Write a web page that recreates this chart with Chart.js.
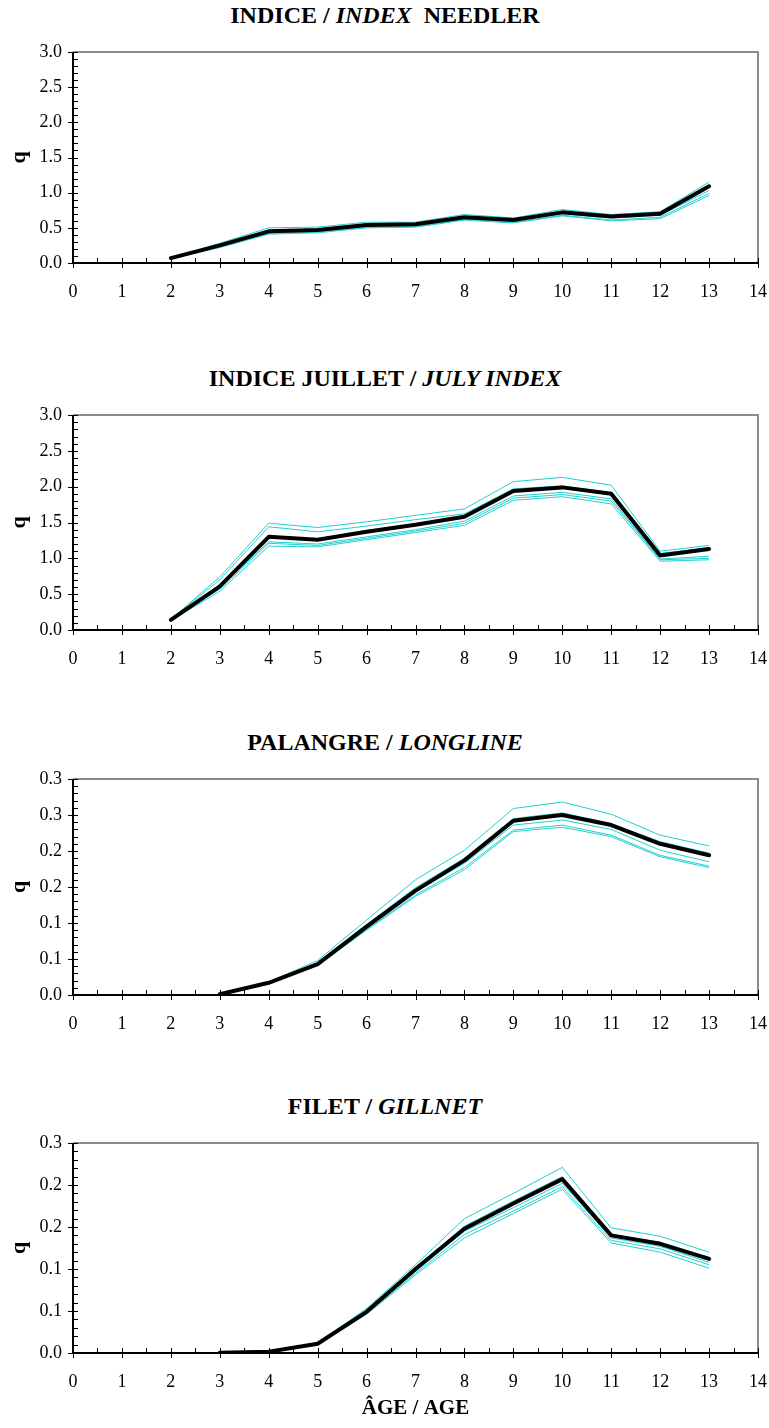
<!DOCTYPE html>
<html>
<head>
<meta charset="utf-8">
<script src="https://cdn.jsdelivr.net/npm/chart.js@4.4.1/dist/chart.umd.min.js"></script>
<style>
  body { margin: 0; background: #fff; }
  #page { position: relative; width: 769px; height: 1428px; font-family: 'Liberation Serif', 'Times New Roman', serif; }
  .ttl { position: absolute; left: 0; width: 770px; text-align: center; font-size: 24px; font-weight: bold; line-height: 24px; white-space: pre; }
  canvas { position: absolute; left: 0; }
</style>
</head>
<body>
<div id="page">
  <div class="ttl" style="top:3px">INDICE / <i>INDEX</i>  NEEDLER</div>
  <div class="ttl" style="top:366px">INDICE JUILLET / <i>JULY INDEX</i></div>
  <div class="ttl" style="top:730px">PALANGRE / <i>LONGLINE</i></div>
  <div class="ttl" style="top:1094px">FILET / <i>GILLNET</i></div>
</div>
<script>
// ages on the x axis
const agesFrom2 = [2, 3, 4, 5, 6, 7, 8, 9, 10, 11, 12, 13];
const agesFrom3 = [3, 4, 5, 6, 7, 8, 9, 10, 11, 12, 13];

// Needler index: thick line plus the thin runs
const needlerQ = [0.07, 0.25, 0.45, 0.47, 0.54, 0.55, 0.65, 0.61, 0.72, 0.66, 0.70, 1.09];
const needlerRuns = [
  [0.07, 0.28, 0.50, 0.51, 0.58, 0.58, 0.69, 0.64, 0.76, 0.69, 0.73, 1.15],
  [0.07, 0.26, 0.47, 0.48, 0.55, 0.56, 0.66, 0.62, 0.73, 0.66, 0.71, 1.11],
  [0.06, 0.24, 0.44, 0.46, 0.53, 0.54, 0.64, 0.60, 0.70, 0.64, 0.68, 1.03],
  [0.06, 0.23, 0.42, 0.44, 0.51, 0.52, 0.62, 0.58, 0.68, 0.61, 0.65, 0.99],
  [0.06, 0.22, 0.41, 0.43, 0.50, 0.51, 0.61, 0.57, 0.67, 0.60, 0.63, 0.96]
];

// July index
const julyQ = [0.14, 0.61, 1.30, 1.26, 1.37, 1.47, 1.58, 1.94, 1.99, 1.90, 1.04, 1.13];
const julyRuns = [
  [0.15, 0.74, 1.49, 1.43, 1.51, 1.60, 1.69, 2.07, 2.13, 2.02, 1.10, 1.18],
  [0.15, 0.70, 1.44, 1.37, 1.45, 1.54, 1.62, 1.97, 2.01, 1.92, 1.07, 1.15],
  [0.14, 0.60, 1.23, 1.20, 1.30, 1.40, 1.52, 1.87, 1.92, 1.83, 0.99, 1.03],
  [0.14, 0.57, 1.21, 1.18, 1.28, 1.38, 1.49, 1.84, 1.89, 1.80, 0.98, 1.00],
  [0.13, 0.54, 1.17, 1.16, 1.26, 1.36, 1.46, 1.81, 1.86, 1.76, 0.96, 0.98]
];

// Longline
const longlineQ = [0.001, 0.017, 0.043, 0.095, 0.145, 0.187, 0.242, 0.250, 0.236, 0.210, 0.194];
const longlineRuns = [
  [0.001, 0.018, 0.048, 0.104, 0.160, 0.201, 0.259, 0.268, 0.251, 0.222, 0.207],
  [0.001, 0.017, 0.045, 0.098, 0.149, 0.190, 0.245, 0.253, 0.238, 0.213, 0.197],
  [0.001, 0.017, 0.043, 0.094, 0.143, 0.183, 0.236, 0.243, 0.230, 0.201, 0.185],
  [0.001, 0.016, 0.042, 0.091, 0.139, 0.177, 0.229, 0.236, 0.222, 0.194, 0.179],
  [0.001, 0.016, 0.041, 0.090, 0.137, 0.174, 0.227, 0.233, 0.220, 0.192, 0.177]
];

// Gillnet
const gillnetQ = [0.0004, 0.0016, 0.011, 0.049, 0.100, 0.148, 0.178, 0.207, 0.140, 0.130, 0.112];
const gillnetRuns = [
  [0.0004, 0.0017, 0.012, 0.053, 0.105, 0.160, 0.190, 0.221, 0.149, 0.139, 0.120],
  [0.0004, 0.0016, 0.011, 0.050, 0.101, 0.151, 0.181, 0.210, 0.141, 0.132, 0.114],
  [0.0004, 0.0016, 0.011, 0.048, 0.097, 0.145, 0.173, 0.202, 0.137, 0.127, 0.108],
  [0.0004, 0.0015, 0.010, 0.047, 0.095, 0.141, 0.169, 0.198, 0.134, 0.124, 0.105],
  [0.0004, 0.0015, 0.010, 0.046, 0.093, 0.137, 0.166, 0.195, 0.131, 0.120, 0.101]
];

const FONT = "'Liberation Serif', 'Times New Roman', serif";
const CYAN = '#22d0d0';

// frame on top/right plus the inside/crossing tick marks
const axisDecor = {
  id: 'axisDecor',
  beforeDatasetsDraw(chart, args, opts) {
    const { ctx, chartArea: a, scales: { x, y } } = chart;
    ctx.save();
    ctx.strokeStyle = '#8c8c8c';
    ctx.lineWidth = 2;
    ctx.beginPath();
    ctx.moveTo(a.left, a.top);
    ctx.lineTo(a.right, a.top);
    ctx.lineTo(a.right, a.bottom);
    ctx.stroke();

    ctx.strokeStyle = '#000';
    ctx.lineWidth = 1;
    ctx.beginPath();
    // y ticks
    const nMinor = Math.round(y.max / opts.yMinor);
    const per = Math.round(opts.yMajor / opts.yMinor);
    for (let i = 0; i <= nMinor; i++) {
      const py = Math.round(y.getPixelForValue(i * opts.yMinor)) + 0.5;
      ctx.moveTo(i % per === 0 ? a.left - 5 : a.left, py);
      ctx.lineTo(a.left + 5, py);
    }
    // x ticks
    for (let i = 0; i <= 28; i++) {
      const px = Math.round(x.getPixelForValue(i / 2)) + 0.5;
      ctx.moveTo(px, a.bottom - 5);
      ctx.lineTo(px, i % 2 === 0 ? a.bottom + 5 : a.bottom);
    }
    ctx.stroke();

    ctx.lineWidth = 2;
    ctx.beginPath();
    ctx.moveTo(a.left, a.top);
    ctx.lineTo(a.left, a.bottom);
    ctx.lineTo(a.right, a.bottom);
    ctx.stroke();
    ctx.restore();
  }
};

function makePanel(plotTop, plotBottom, ages, mean, runs, yMax, yStep, yMinor, xTitle) {
  const padTop = 12;
  const xh = xTitle ? 1428 - plotBottom : 45;
  const canvas = document.createElement('canvas');
  canvas.width = 769;
  canvas.height = padTop + (plotBottom - plotTop) + xh;
  canvas.style.top = (plotTop - padTop) + 'px';
  document.getElementById('page').appendChild(canvas);

  const toPts = vals => vals.map((v, i) => ({ x: ages[i], y: v }));
  const datasets = [{
    data: toPts(mean), borderColor: '#000', borderWidth: 4,
    borderJoinStyle: 'round', borderCapStyle: 'round'
  }];
  runs.forEach(r => datasets.push({ data: toPts(r), borderColor: CYAN, borderWidth: 1 }));

  new Chart(canvas.getContext('2d'), {
    type: 'line',
    data: { datasets: datasets },
    options: {
      responsive: false,
      animation: false,
      layout: { padding: { top: padTop, right: 11, left: 0, bottom: 0 } },
      elements: { point: { radius: 0 }, line: { tension: 0 } },
      plugins: {
        legend: { display: false },
        tooltip: { enabled: false },
        axisDecor: { yMajor: yStep, yMinor: yMinor }
      },
      scales: {
        x: {
          type: 'linear', min: 0, max: 14,
          grid: { display: false, drawTicks: false }, border: { display: false },
          ticks: { stepSize: 1, padding: 18, color: '#000', font: { family: FONT, size: 18 } },
          title: {
            display: !!xTitle, text: xTitle || '', color: '#000',
            font: { family: FONT, size: 21, weight: 'bold' }, padding: { bottom: 7 }
          },
          afterFit: s => { s.height = xh; s.paddingLeft = 0; s.paddingRight = 0; }
        },
        y: {
          min: 0, max: yMax,
          grid: { display: false, drawTicks: false }, border: { display: false },
          ticks: {
            stepSize: yStep, padding: 11, color: '#000', font: { family: FONT, size: 18 },
            callback: v => (Math.round(v * 10 + 1e-9) / 10).toFixed(1)
          },
          title: {
            display: true, text: 'q', color: '#000',
            font: { family: FONT, size: 22, weight: 'bold' }, padding: { top: 6 }
          },
          afterFit: s => { s.width = 73; s.paddingTop = 0; s.paddingBottom = 0; }
        }
      }
    },
    plugins: [axisDecor]
  });
}

makePanel(52, 263, agesFrom2, needlerQ, needlerRuns, 3.0, 0.5, 0.1);
makePanel(415, 630, agesFrom2, julyQ, julyRuns, 3.0, 0.5, 0.1);
makePanel(779, 995, agesFrom3, longlineQ, longlineRuns, 0.3, 0.05, 0.01);
makePanel(1143, 1353, agesFrom3, gillnetQ, gillnetRuns, 0.25, 0.05, 0.01, 'ÂGE / AGE');
</script>
</body>
</html>
